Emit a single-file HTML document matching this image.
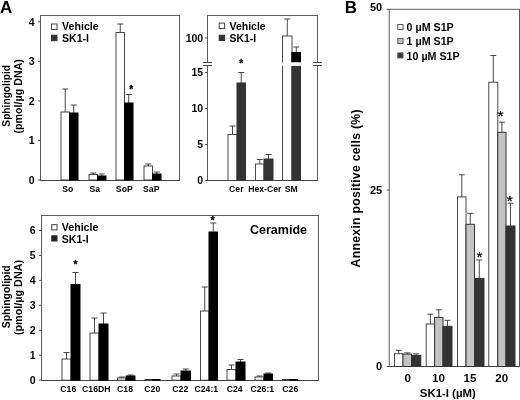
<!DOCTYPE html>
<html><head><meta charset="utf-8"><title>Figure</title>
<style>
html,body{margin:0;padding:0;background:#fff;}
body{width:520px;height:400px;overflow:hidden;}
svg{display:block;font-family:"Liberation Sans",Arial,Helvetica,sans-serif;fill:#000;}
</style></head><body>
<svg width="520" height="400" viewBox="0 0 520 400">
<rect x="0" y="0" width="520" height="400" fill="#fff" stroke="none"/>
<text x="0.1" y="12.5" font-size="17" text-anchor="start" font-weight="bold" >A</text>
<text x="344.8" y="12.5" font-size="17" text-anchor="start" font-weight="bold" >B</text>
<rect x="40.5" y="15.5" width="139.0" height="165.0" fill="none" stroke="#5c5c5c" stroke-width="1"/>
<line x1="40.5" y1="180.5" x2="179.5" y2="180.5" stroke="#444" stroke-width="1"/>
<line x1="38.0" y1="180.0" x2="40.5" y2="180.0" stroke="#555" stroke-width="1"/>
<text x="34.5" y="183.8" font-size="10.5" text-anchor="end" font-weight="bold" >0</text>
<line x1="38.0" y1="140.45" x2="40.5" y2="140.45" stroke="#555" stroke-width="1"/>
<text x="34.5" y="144.25" font-size="10.5" text-anchor="end" font-weight="bold" >1</text>
<line x1="38.0" y1="100.9" x2="40.5" y2="100.9" stroke="#555" stroke-width="1"/>
<text x="34.5" y="104.7" font-size="10.5" text-anchor="end" font-weight="bold" >2</text>
<line x1="38.0" y1="61.35000000000001" x2="40.5" y2="61.35000000000001" stroke="#555" stroke-width="1"/>
<text x="34.5" y="65.15" font-size="10.5" text-anchor="end" font-weight="bold" >3</text>
<line x1="38.0" y1="21.80000000000001" x2="40.5" y2="21.80000000000001" stroke="#555" stroke-width="1"/>
<text x="34.5" y="25.600000000000012" font-size="10.5" text-anchor="end" font-weight="bold" >4</text>
<line x1="65.25" y1="89" x2="65.25" y2="112" stroke="#333" stroke-width="0.9"/>
<line x1="62.25" y1="89" x2="68.25" y2="89" stroke="#333" stroke-width="0.9"/>
<rect x="61" y="112" width="8.5" height="68" fill="#fff" stroke="#333" stroke-width="0.9"/>
<line x1="73.75" y1="105" x2="73.75" y2="113" stroke="#333" stroke-width="0.9"/>
<line x1="70.75" y1="105" x2="76.75" y2="105" stroke="#333" stroke-width="0.9"/>
<rect x="69.5" y="113" width="8.5" height="67" fill="#000" stroke="#000" stroke-width="1"/>
<text x="67.8" y="192.1" font-size="8.7" text-anchor="middle" font-weight="bold" >So</text>
<line x1="93.25" y1="173" x2="93.25" y2="174.5" stroke="#333" stroke-width="0.9"/>
<line x1="90.25" y1="173" x2="96.25" y2="173" stroke="#333" stroke-width="0.9"/>
<rect x="89" y="174.5" width="8.5" height="5.5" fill="#fff" stroke="#333" stroke-width="0.9"/>
<line x1="101.75" y1="174" x2="101.75" y2="176" stroke="#333" stroke-width="0.9"/>
<line x1="98.75" y1="174" x2="104.75" y2="174" stroke="#333" stroke-width="0.9"/>
<rect x="97.5" y="176" width="8.5" height="4" fill="#000" stroke="#000" stroke-width="1"/>
<text x="94.8" y="192.1" font-size="8.7" text-anchor="middle" font-weight="bold" >Sa</text>
<line x1="120.25" y1="24" x2="120.25" y2="32.5" stroke="#333" stroke-width="0.9"/>
<line x1="117.25" y1="24" x2="123.25" y2="24" stroke="#333" stroke-width="0.9"/>
<rect x="116" y="32.5" width="8.5" height="147.5" fill="#fff" stroke="#333" stroke-width="0.9"/>
<line x1="128.75" y1="94.5" x2="128.75" y2="103" stroke="#333" stroke-width="0.9"/>
<line x1="125.75" y1="94.5" x2="131.75" y2="94.5" stroke="#333" stroke-width="0.9"/>
<rect x="124.5" y="103" width="8.5" height="77" fill="#000" stroke="#000" stroke-width="1"/>
<text x="124.3" y="192.1" font-size="8.7" text-anchor="middle" font-weight="bold" >SoP</text>
<line x1="148.25" y1="164" x2="148.25" y2="166" stroke="#333" stroke-width="0.9"/>
<line x1="145.25" y1="164" x2="151.25" y2="164" stroke="#333" stroke-width="0.9"/>
<rect x="144" y="166" width="8.5" height="14" fill="#fff" stroke="#333" stroke-width="0.9"/>
<line x1="156.75" y1="172" x2="156.75" y2="174" stroke="#333" stroke-width="0.9"/>
<line x1="153.75" y1="172" x2="159.75" y2="172" stroke="#333" stroke-width="0.9"/>
<rect x="152.5" y="174" width="8.5" height="6" fill="#000" stroke="#000" stroke-width="1"/>
<text x="151.3" y="192.1" font-size="8.7" text-anchor="middle" font-weight="bold" >SaP</text>
<text x="131.3" y="92.5" font-size="10" text-anchor="middle" font-weight="bold" stroke="#000" stroke-width="0.3">*</text>
<rect x="51.5" y="24" width="5.5" height="5.5" fill="#fff" stroke="#444" stroke-width="1"/>
<text x="62.1" y="30.4" font-size="10.6" text-anchor="start" font-weight="bold" >Vehicle</text>
<rect x="51.5" y="35.2" width="5.5" height="5.5" fill="#333" stroke="#333" stroke-width="1"/>
<text x="62.1" y="41.8" font-size="10.5" text-anchor="start" font-weight="bold" >SK1-I</text>
<text x="0" y="0" font-size="10.2" text-anchor="middle" font-weight="bold" transform="translate(9.6,95.8) rotate(-90)">Sphingolipid</text>
<text x="0" y="0" font-size="10.7" text-anchor="middle" font-weight="bold" transform="translate(21.6,96.3) rotate(-90)">(pmol/µg DNA)</text>
<rect x="207.5" y="15.5" width="110.0" height="165.0" fill="none" stroke="#5c5c5c" stroke-width="1"/>
<line x1="207.5" y1="180.5" x2="317.5" y2="180.5" stroke="#444" stroke-width="1"/>
<line x1="205.0" y1="180.5" x2="207.5" y2="180.5" stroke="#555" stroke-width="1"/>
<text x="203.2" y="184.3" font-size="10.5" text-anchor="end" font-weight="bold" >0</text>
<line x1="205.0" y1="144.5" x2="207.5" y2="144.5" stroke="#555" stroke-width="1"/>
<text x="203.2" y="148.3" font-size="10.5" text-anchor="end" font-weight="bold" >5</text>
<line x1="205.0" y1="108.5" x2="207.5" y2="108.5" stroke="#555" stroke-width="1"/>
<text x="203.2" y="112.3" font-size="10.5" text-anchor="end" font-weight="bold" >10</text>
<line x1="205.0" y1="72.5" x2="207.5" y2="72.5" stroke="#555" stroke-width="1"/>
<text x="203.2" y="76.3" font-size="10.5" text-anchor="end" font-weight="bold" >15</text>
<line x1="205.0" y1="38" x2="207.5" y2="38" stroke="#555" stroke-width="1"/>
<text x="203.2" y="41.8" font-size="10.5" text-anchor="end" font-weight="bold" >100</text>
<line x1="232.5" y1="126" x2="232.5" y2="134.5" stroke="#333" stroke-width="0.9"/>
<line x1="229.5" y1="126" x2="235.5" y2="126" stroke="#333" stroke-width="0.9"/>
<rect x="228" y="134.5" width="9" height="46.0" fill="#fff" stroke="#333" stroke-width="0.9"/>
<line x1="241.25" y1="72.5" x2="241.25" y2="83" stroke="#333" stroke-width="0.9"/>
<line x1="238.25" y1="72.5" x2="244.25" y2="72.5" stroke="#333" stroke-width="0.9"/>
<rect x="237" y="83" width="8.5" height="97.5" fill="#333" stroke="#333" stroke-width="1"/>
<text x="236.3" y="192.1" font-size="8.7" text-anchor="middle" font-weight="bold" >Cer</text>
<line x1="259.75" y1="159.5" x2="259.75" y2="164" stroke="#333" stroke-width="0.9"/>
<line x1="256.75" y1="159.5" x2="262.75" y2="159.5" stroke="#333" stroke-width="0.9"/>
<rect x="255.5" y="164" width="8.5" height="16.5" fill="#fff" stroke="#333" stroke-width="0.9"/>
<line x1="268.5" y1="154.5" x2="268.5" y2="159" stroke="#333" stroke-width="0.9"/>
<line x1="265.5" y1="154.5" x2="271.5" y2="154.5" stroke="#333" stroke-width="0.9"/>
<rect x="264" y="159" width="9" height="21.5" fill="#333" stroke="#333" stroke-width="1"/>
<text x="264.8" y="192.1" font-size="8.7" text-anchor="middle" font-weight="bold" >Hex-Cer</text>
<line x1="287.25" y1="19" x2="287.25" y2="36" stroke="#333" stroke-width="0.9"/>
<line x1="284.25" y1="19" x2="290.25" y2="19" stroke="#333" stroke-width="0.9"/>
<rect x="282.5" y="36" width="9.5" height="144.5" fill="#fff" stroke="#333" stroke-width="0.9"/>
<line x1="296.25" y1="47" x2="296.25" y2="52.5" stroke="#333" stroke-width="0.9"/>
<line x1="293.25" y1="47" x2="299.25" y2="47" stroke="#333" stroke-width="0.9"/>
<rect x="292" y="52.5" width="8.5" height="128.0" fill="#333" stroke="#333" stroke-width="1"/>
<text x="291.3" y="192.1" font-size="8.7" text-anchor="middle" font-weight="bold" >SM</text>
<rect x="292" y="52.5" width="8.5" height="9.5" fill="#000" stroke="#000" stroke-width="1"/>
<rect x="281" y="62.3" width="21" height="3.6" fill="#fff"/>
<rect x="203.5" y="62.5" width="8" height="3" fill="#fff"/>
<line x1="203.0" y1="62.5" x2="212.0" y2="62.5" stroke="#444" stroke-width="1"/>
<line x1="203.0" y1="65.5" x2="212.0" y2="65.5" stroke="#444" stroke-width="1"/>
<rect x="313.5" y="62.5" width="8" height="3" fill="#fff"/>
<line x1="313.0" y1="62.5" x2="322.0" y2="62.5" stroke="#444" stroke-width="1"/>
<line x1="313.0" y1="65.5" x2="322.0" y2="65.5" stroke="#444" stroke-width="1"/>
<text x="241.1" y="67.1" font-size="10" text-anchor="middle" font-weight="bold" stroke="#000" stroke-width="0.3">*</text>
<rect x="219.2" y="23.1" width="5.4" height="5.4" fill="#fff" stroke="#444" stroke-width="1"/>
<text x="229.5" y="30.3" font-size="10.5" text-anchor="start" font-weight="bold" >Vehicle</text>
<rect x="219.2" y="35.2" width="5.4" height="5.3" fill="#333" stroke="#333" stroke-width="1"/>
<text x="229.5" y="41.7" font-size="10.4" text-anchor="start" font-weight="bold" >SK1-I</text>
<rect x="41.5" y="215.5" width="277.0" height="165.0" fill="none" stroke="#5c5c5c" stroke-width="1"/>
<line x1="41.5" y1="380.5" x2="318.5" y2="380.5" stroke="#444" stroke-width="1"/>
<line x1="39.0" y1="380.2" x2="41.5" y2="380.2" stroke="#555" stroke-width="1"/>
<text x="35.5" y="384.0" font-size="10.5" text-anchor="end" font-weight="bold" >0</text>
<line x1="39.0" y1="355.25" x2="41.5" y2="355.25" stroke="#555" stroke-width="1"/>
<text x="35.5" y="359.05" font-size="10.5" text-anchor="end" font-weight="bold" >1</text>
<line x1="39.0" y1="330.3" x2="41.5" y2="330.3" stroke="#555" stroke-width="1"/>
<text x="35.5" y="334.1" font-size="10.5" text-anchor="end" font-weight="bold" >2</text>
<line x1="39.0" y1="305.35" x2="41.5" y2="305.35" stroke="#555" stroke-width="1"/>
<text x="35.5" y="309.15000000000003" font-size="10.5" text-anchor="end" font-weight="bold" >3</text>
<line x1="39.0" y1="280.4" x2="41.5" y2="280.4" stroke="#555" stroke-width="1"/>
<text x="35.5" y="284.2" font-size="10.5" text-anchor="end" font-weight="bold" >4</text>
<line x1="39.0" y1="255.45" x2="41.5" y2="255.45" stroke="#555" stroke-width="1"/>
<text x="35.5" y="259.25" font-size="10.5" text-anchor="end" font-weight="bold" >5</text>
<line x1="39.0" y1="230.5" x2="41.5" y2="230.5" stroke="#555" stroke-width="1"/>
<text x="35.5" y="234.3" font-size="10.5" text-anchor="end" font-weight="bold" >6</text>
<line x1="66.5" y1="352.5" x2="66.5" y2="359" stroke="#333" stroke-width="0.9"/>
<line x1="63.5" y1="352.5" x2="69.5" y2="352.5" stroke="#333" stroke-width="0.9"/>
<rect x="62" y="359" width="9" height="21.2" fill="#fff" stroke="#333" stroke-width="0.9"/>
<line x1="75.5" y1="272.5" x2="75.5" y2="284.5" stroke="#333" stroke-width="0.9"/>
<line x1="72.5" y1="272.5" x2="78.5" y2="272.5" stroke="#333" stroke-width="0.9"/>
<rect x="71" y="284.5" width="9" height="95.7" fill="#000" stroke="#000" stroke-width="1"/>
<text x="68.3" y="392.1" font-size="8.7" text-anchor="middle" font-weight="bold" >C16</text>
<line x1="94.5" y1="318" x2="94.5" y2="333" stroke="#333" stroke-width="0.9"/>
<line x1="91.5" y1="318" x2="97.5" y2="318" stroke="#333" stroke-width="0.9"/>
<rect x="90" y="333" width="9" height="47.2" fill="#fff" stroke="#333" stroke-width="0.9"/>
<line x1="103.5" y1="313" x2="103.5" y2="324" stroke="#333" stroke-width="0.9"/>
<line x1="100.5" y1="313" x2="106.5" y2="313" stroke="#333" stroke-width="0.9"/>
<rect x="99" y="324" width="9" height="56.2" fill="#000" stroke="#000" stroke-width="1"/>
<text x="96.3" y="392.1" font-size="8.7" text-anchor="middle" font-weight="bold" >C16DH</text>
<line x1="121.75" y1="377" x2="121.75" y2="378" stroke="#333" stroke-width="0.9"/>
<line x1="118.75" y1="377" x2="124.75" y2="377" stroke="#333" stroke-width="0.9"/>
<rect x="117.5" y="378" width="8.5" height="2.2" fill="#fff" stroke="#333" stroke-width="0.9"/>
<line x1="130.5" y1="375" x2="130.5" y2="376" stroke="#333" stroke-width="0.9"/>
<line x1="127.5" y1="375" x2="133.5" y2="375" stroke="#333" stroke-width="0.9"/>
<rect x="126" y="376" width="9" height="4.2" fill="#000" stroke="#000" stroke-width="1"/>
<text x="125.0" y="392.1" font-size="8.7" text-anchor="middle" font-weight="bold" >C18</text>
<rect x="145" y="379.5" width="7.5" height="0.7" fill="#fff" stroke="#333" stroke-width="0.9"/>
<rect x="152.5" y="379.5" width="7.5" height="0.7" fill="#000" stroke="#000" stroke-width="1"/>
<text x="152.3" y="392.1" font-size="8.7" text-anchor="middle" font-weight="bold" >C20</text>
<line x1="176.5" y1="374" x2="176.5" y2="376" stroke="#333" stroke-width="0.9"/>
<line x1="173.5" y1="374" x2="179.5" y2="374" stroke="#333" stroke-width="0.9"/>
<rect x="172" y="376" width="9" height="4.2" fill="#fff" stroke="#333" stroke-width="0.9"/>
<line x1="185.75" y1="369" x2="185.75" y2="371" stroke="#333" stroke-width="0.9"/>
<line x1="182.75" y1="369" x2="188.75" y2="369" stroke="#333" stroke-width="0.9"/>
<rect x="181" y="371" width="9.5" height="9.2" fill="#000" stroke="#000" stroke-width="1"/>
<text x="180.3" y="392.1" font-size="8.7" text-anchor="middle" font-weight="bold" >C22</text>
<line x1="204.75" y1="287" x2="204.75" y2="311" stroke="#333" stroke-width="0.9"/>
<line x1="201.75" y1="287" x2="207.75" y2="287" stroke="#333" stroke-width="0.9"/>
<rect x="200.5" y="311" width="8.5" height="69.2" fill="#fff" stroke="#333" stroke-width="0.9"/>
<line x1="213.25" y1="223" x2="213.25" y2="232" stroke="#333" stroke-width="0.9"/>
<line x1="210.25" y1="223" x2="216.25" y2="223" stroke="#333" stroke-width="0.9"/>
<rect x="209" y="232" width="8.5" height="148.2" fill="#000" stroke="#000" stroke-width="1"/>
<text x="206.3" y="392.1" font-size="8.7" text-anchor="middle" font-weight="bold" >C24:1</text>
<line x1="231.5" y1="365" x2="231.5" y2="369.5" stroke="#333" stroke-width="0.9"/>
<line x1="228.5" y1="365" x2="234.5" y2="365" stroke="#333" stroke-width="0.9"/>
<rect x="227" y="369.5" width="9" height="10.7" fill="#fff" stroke="#333" stroke-width="0.9"/>
<line x1="240.5" y1="359.5" x2="240.5" y2="362" stroke="#333" stroke-width="0.9"/>
<line x1="237.5" y1="359.5" x2="243.5" y2="359.5" stroke="#333" stroke-width="0.9"/>
<rect x="236" y="362" width="9" height="18.2" fill="#000" stroke="#000" stroke-width="1"/>
<text x="234.60000000000002" y="392.1" font-size="8.7" text-anchor="middle" font-weight="bold" >C24</text>
<line x1="259.5" y1="376" x2="259.5" y2="377" stroke="#333" stroke-width="0.9"/>
<line x1="256.5" y1="376" x2="262.5" y2="376" stroke="#333" stroke-width="0.9"/>
<rect x="255" y="377" width="9" height="3.2" fill="#fff" stroke="#333" stroke-width="0.9"/>
<line x1="268.25" y1="373" x2="268.25" y2="374" stroke="#333" stroke-width="0.9"/>
<line x1="265.25" y1="373" x2="271.25" y2="373" stroke="#333" stroke-width="0.9"/>
<rect x="264" y="374" width="8.5" height="6.2" fill="#000" stroke="#000" stroke-width="1"/>
<text x="262.3" y="392.1" font-size="8.7" text-anchor="middle" font-weight="bold" >C26:1</text>
<rect x="282.5" y="379.5" width="7.5" height="0.7" fill="#fff" stroke="#333" stroke-width="0.9"/>
<rect x="290" y="379.5" width="7.5" height="0.7" fill="#000" stroke="#000" stroke-width="1"/>
<text x="290.3" y="392.1" font-size="8.7" text-anchor="middle" font-weight="bold" >C26</text>
<text x="75.4" y="267.5" font-size="10" text-anchor="middle" font-weight="bold" stroke="#000" stroke-width="0.3">*</text>
<text x="212.6" y="223.7" font-size="10" text-anchor="middle" font-weight="bold" stroke="#000" stroke-width="0.3">*</text>
<rect x="51.8" y="224.6" width="5.2" height="5.3" fill="#fff" stroke="#444" stroke-width="1"/>
<text x="61.8" y="231.1" font-size="10.6" text-anchor="start" font-weight="bold" >Vehicle</text>
<rect x="51.8" y="235.8" width="5.2" height="5.2" fill="#222" stroke="#222" stroke-width="1"/>
<text x="61.8" y="242.6" font-size="10.5" text-anchor="start" font-weight="bold" >SK1-I</text>
<text x="250" y="233.6" font-size="12.5" text-anchor="start" font-weight="bold" >Ceramide</text>
<text x="0" y="0" font-size="10.4" text-anchor="middle" font-weight="bold" transform="translate(9.6,296.8) rotate(-90)">Sphingolipid</text>
<text x="0" y="0" font-size="10.8" text-anchor="middle" font-weight="bold" transform="translate(21.6,297.5) rotate(-90)">(pmol/µg DNA)</text>
<rect x="389.2" y="9.3" width="130.3" height="357.2" fill="none" stroke="#5c5c5c" stroke-width="1"/>
<line x1="389.2" y1="366.5" x2="519.5" y2="366.5" stroke="#444" stroke-width="1"/>
<line x1="386.7" y1="366.5" x2="389.2" y2="366.5" stroke="#555" stroke-width="1"/>
<text x="382.2" y="370.4" font-size="11" text-anchor="end" font-weight="bold" >0</text>
<line x1="386.7" y1="190" x2="389.2" y2="190" stroke="#555" stroke-width="1"/>
<text x="382.2" y="193.9" font-size="11" text-anchor="end" font-weight="bold" >25</text>
<line x1="386.7" y1="9.3" x2="389.2" y2="9.3" stroke="#555" stroke-width="1"/>
<text x="382.2" y="11.200000000000001" font-size="11" text-anchor="end" font-weight="bold" >50</text>
<line x1="398.75" y1="350.4" x2="398.75" y2="353.8" stroke="#333" stroke-width="0.9"/>
<line x1="395.75" y1="350.4" x2="401.75" y2="350.4" stroke="#333" stroke-width="0.9"/>
<rect x="394.5" y="353.8" width="8.5" height="12.7" fill="#fff" stroke="#333" stroke-width="0.9"/>
<line x1="407.3" y1="352.9" x2="407.3" y2="354.1" stroke="#333" stroke-width="0.9"/>
<line x1="404.3" y1="352.9" x2="410.3" y2="352.9" stroke="#333" stroke-width="0.9"/>
<rect x="403" y="354.1" width="8.6" height="12.4" fill="#c4c4c4" stroke="#333" stroke-width="1"/>
<line x1="416.20000000000005" y1="353.9" x2="416.20000000000005" y2="355.4" stroke="#333" stroke-width="0.9"/>
<line x1="413.20000000000005" y1="353.9" x2="419.20000000000005" y2="353.9" stroke="#333" stroke-width="0.9"/>
<rect x="411.6" y="355.4" width="9.2" height="11.1" fill="#333" stroke="#333" stroke-width="1"/>
<text x="407.8" y="382.2" font-size="11.6" text-anchor="middle" font-weight="bold" >0</text>
<line x1="430.4" y1="314.2" x2="430.4" y2="324" stroke="#333" stroke-width="0.9"/>
<line x1="427.4" y1="314.2" x2="433.4" y2="314.2" stroke="#333" stroke-width="0.9"/>
<rect x="426.2" y="324" width="8.4" height="42.5" fill="#fff" stroke="#333" stroke-width="0.9"/>
<line x1="438.8" y1="309.8" x2="438.8" y2="317.4" stroke="#333" stroke-width="0.9"/>
<line x1="435.8" y1="309.8" x2="441.8" y2="309.8" stroke="#333" stroke-width="0.9"/>
<rect x="434.6" y="317.4" width="8.4" height="49.1" fill="#c4c4c4" stroke="#333" stroke-width="1"/>
<line x1="447.5" y1="320.3" x2="447.5" y2="326.3" stroke="#333" stroke-width="0.9"/>
<line x1="444.5" y1="320.3" x2="450.5" y2="320.3" stroke="#333" stroke-width="0.9"/>
<rect x="443" y="326.3" width="9" height="40.2" fill="#333" stroke="#333" stroke-width="1"/>
<text x="438.5" y="382.2" font-size="11.6" text-anchor="middle" font-weight="bold" >10</text>
<line x1="461.75" y1="174.8" x2="461.75" y2="196.9" stroke="#333" stroke-width="0.9"/>
<line x1="458.75" y1="174.8" x2="464.75" y2="174.8" stroke="#333" stroke-width="0.9"/>
<rect x="457.5" y="196.9" width="8.5" height="169.6" fill="#fff" stroke="#333" stroke-width="0.9"/>
<line x1="470.25" y1="213.3" x2="470.25" y2="224.3" stroke="#333" stroke-width="0.9"/>
<line x1="467.25" y1="213.3" x2="473.25" y2="213.3" stroke="#333" stroke-width="0.9"/>
<rect x="466" y="224.3" width="8.5" height="142.2" fill="#c4c4c4" stroke="#333" stroke-width="1"/>
<line x1="479.25" y1="260" x2="479.25" y2="278.4" stroke="#333" stroke-width="0.9"/>
<line x1="476.25" y1="260" x2="482.25" y2="260" stroke="#333" stroke-width="0.9"/>
<rect x="474.5" y="278.4" width="9.5" height="88.1" fill="#333" stroke="#333" stroke-width="1"/>
<text x="470" y="382.2" font-size="11.6" text-anchor="middle" font-weight="bold" >15</text>
<line x1="493.3" y1="55.5" x2="493.3" y2="82.2" stroke="#333" stroke-width="0.9"/>
<line x1="490.3" y1="55.5" x2="496.3" y2="55.5" stroke="#333" stroke-width="0.9"/>
<rect x="488.8" y="82.2" width="9.0" height="284.3" fill="#fff" stroke="#333" stroke-width="0.9"/>
<line x1="501.9" y1="122.2" x2="501.9" y2="132.3" stroke="#333" stroke-width="0.9"/>
<line x1="498.9" y1="122.2" x2="504.9" y2="122.2" stroke="#333" stroke-width="0.9"/>
<rect x="497.8" y="132.3" width="8.2" height="234.2" fill="#c4c4c4" stroke="#333" stroke-width="1"/>
<line x1="510.5" y1="203.2" x2="510.5" y2="226" stroke="#333" stroke-width="0.9"/>
<line x1="507.5" y1="203.2" x2="513.5" y2="203.2" stroke="#333" stroke-width="0.9"/>
<rect x="506" y="226" width="9" height="140.5" fill="#333" stroke="#333" stroke-width="1"/>
<text x="501.7" y="382.2" font-size="11.6" text-anchor="middle" font-weight="bold" >20</text>
<text x="479.4" y="262.0" font-size="15.5" text-anchor="middle" font-weight="normal" stroke="#000" stroke-width="0.25">*</text>
<text x="500.6" y="120.81" font-size="15.5" text-anchor="middle" font-weight="normal" stroke="#000" stroke-width="0.25">*</text>
<text x="509.7" y="205.71" font-size="15.5" text-anchor="middle" font-weight="normal" stroke="#000" stroke-width="0.25">*</text>
<text x="447.8" y="397.2" font-size="11.4" text-anchor="middle" font-weight="bold" >SK1-I (µM)</text>
<rect x="397.8" y="24.5" width="5.2" height="5.0" fill="#fff" stroke="#555" stroke-width="1"/>
<text x="406.6" y="30.8" font-size="10.7" text-anchor="start" font-weight="bold" >0 µM S1P</text>
<rect x="397.8" y="38.4" width="5.2" height="5.0" fill="#c4c4c4" stroke="#555" stroke-width="1"/>
<text x="406.6" y="44.8" font-size="10.7" text-anchor="start" font-weight="bold" >1 µM S1P</text>
<rect x="397.8" y="52.9" width="5.2" height="5.0" fill="#333" stroke="#555" stroke-width="1"/>
<text x="406.6" y="60.0" font-size="10.7" text-anchor="start" font-weight="bold" >10 µM S1P</text>
<text x="0" y="0" font-size="12.3" text-anchor="middle" font-weight="bold" letter-spacing="0.25" transform="translate(359.8,188.3) rotate(-90)">Annexin positive cells (%)</text>
</svg>
</body></html>
